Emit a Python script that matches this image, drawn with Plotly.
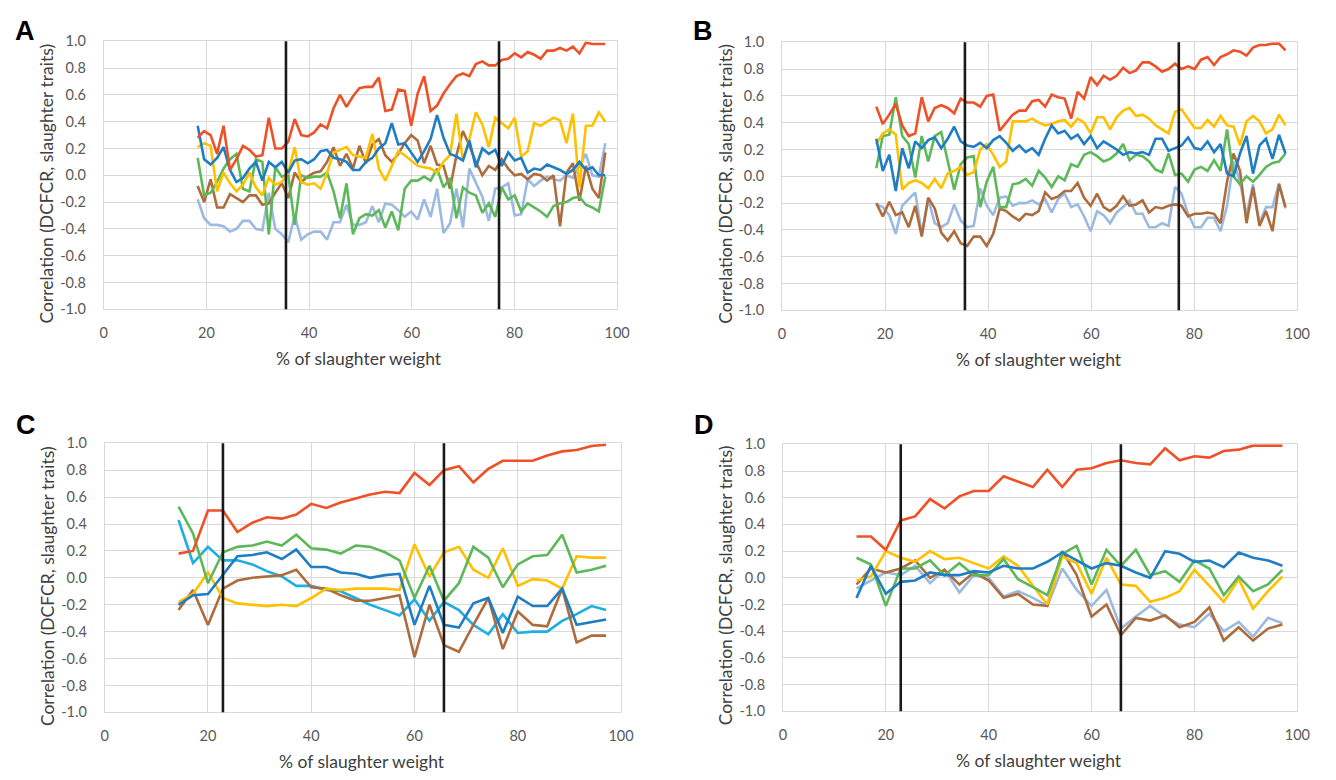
import numpy as np
import plotly.graph_objects as go

# ---------------- data ----------------
# Panels A and B: x positions (% of slaughter weight), 64 evenly spaced samples
x_ab = [round(v, 2) for v in np.linspace(18.3, 97.7, 64)]
# Panels C and D: 30 samples
x_cd = [14.3, 17.1, 20.0, 22.9, 25.7, 28.6, 31.4, 34.3, 37.1, 40.0,
        42.9, 45.7, 48.6, 51.4, 54.3, 57.1, 60.0, 62.9, 65.7, 68.6,
        71.4, 74.3, 77.1, 80.0, 82.9, 85.7, 88.6, 91.4, 94.3, 97.1]

# Vertical reference lines
vlines_ab = [35.5, 77.0]
vlines_cd = [22.9, 65.7]

# ---- Panel A ----
a_red = [0.28, 0.33, 0.30, 0.16, 0.37, 0.04, 0.12, 0.22, 0.19, 0.14,
         0.15, 0.43, 0.20, 0.20, 0.25, 0.42, 0.30, 0.29, 0.32, 0.38,
         0.35, 0.50, 0.60, 0.51, 0.59, 0.65, 0.66, 0.66, 0.73, 0.48,
         0.49, 0.64, 0.63, 0.37, 0.61, 0.74, 0.48, 0.52, 0.61, 0.68,
         0.74, 0.76, 0.74, 0.83, 0.85, 0.82, 0.82, 0.86, 0.87, 0.91,
         0.88, 0.92, 0.90, 0.87, 0.93, 0.93, 0.95, 0.93, 0.96, 0.91,
         0.99, 0.98, 0.98, 0.98]
a_blue = [0.37, 0.12, 0.08, 0.13, 0.21, 0.04, -0.05, -0.02, 0.05, 0.10,
          -0.04, 0.10, 0.06, 0.10, 0.02, 0.11, 0.12, 0.09, 0.12, 0.18,
          0.19, 0.13, 0.12, 0.10, 0.04, 0.04, 0.10, 0.13,
          0.20, 0.24, 0.39, 0.23, 0.24, 0.17, 0.10, 0.18, 0.27, 0.45,
          0.28, 0.16, 0.14, 0.11, 0.26, 0.06, 0.20, 0.16, 0.19, 0.07,
          0.17, 0.11, 0.13, 0.02, 0.05, 0.04, 0.08, 0.06, 0.04, 0.01,
          0.04, 0.10, 0.04, 0.06, 0.00, 0.00]
a_yellow = [0.21, 0.24, 0.22, -0.12, 0.02, -0.06, -0.12, -0.07, 0.02, -0.09,
            -0.15, -0.02, -0.07, -0.05, 0.02, 0.21, -0.05, -0.07, -0.06, -0.10,
            0.02, 0.17, 0.19, 0.21, 0.15, 0.14, 0.13, 0.31,
            0.05, -0.04, 0.07, 0.18, 0.15, 0.11, 0.07, 0.06, 0.05, 0.02,
            0.10, 0.15, 0.46, 0.11, 0.27, 0.47, 0.38, 0.21, 0.43, 0.39,
            0.35, 0.43, 0.14, 0.18, 0.39, 0.37, 0.40, 0.43, 0.41, 0.24,
            0.46, -0.09, 0.37, 0.37, 0.47, 0.40]
a_green = [0.13, -0.15, -0.13, -0.05, 0.05, 0.12, 0.16, -0.10, -0.12, 0.12,
           0.10, -0.44, 0.06, -0.01, 0.01, -0.37, 0.00, -0.02, -0.01, -0.01,
           0.02, -0.12, -0.32, -0.06, -0.44, -0.32, -0.29, -0.30,
           -0.26, -0.39, -0.27, -0.41, -0.10, -0.04, -0.04, -0.01, -0.04, 0.05,
           -0.09, -0.02, -0.32, -0.09, -0.13, -0.15, -0.28, -0.21, -0.31, -0.09,
           -0.18, -0.15, -0.27, -0.21, -0.24, -0.27, -0.31, -0.23, -0.21, -0.20,
           -0.17, -0.16, -0.22, -0.24, -0.27, -0.01]
a_brown = [-0.08, -0.20, -0.03, -0.24, -0.24, -0.14, -0.17, -0.20, -0.15, -0.15,
           -0.22, -0.21, -0.13, -0.06, -0.17, 0.02, -0.05, -0.01, 0.02, 0.03,
           0.10, 0.21, 0.07, 0.16, 0.05, 0.22, 0.09, 0.23,
           0.27, 0.15, 0.10, 0.16, 0.24, 0.30, 0.26, 0.09, 0.22, 0.08,
           0.07, -0.10, 0.15, 0.33, 0.22, 0.10, 0.00, 0.07, 0.04, 0.12,
           0.05, 0.00, 0.01, -0.03, 0.01, 0.00, -0.04, 0.00, -0.38, 0.02,
           0.09, -0.19, 0.07, -0.10, -0.17, 0.17]
a_lightblue = [-0.18, -0.32, -0.37, -0.37, -0.38, -0.42, -0.40, -0.34, -0.34, -0.40,
               -0.41, -0.13, -0.40, -0.44, -0.50, -0.30, -0.48, -0.44, -0.42, -0.42,
               -0.48, -0.35, -0.35, -0.22, -0.37, -0.37, -0.35, -0.23,
               -0.35, -0.21, -0.22, -0.26, -0.31, -0.27, -0.33, -0.18, -0.31, -0.10,
               -0.43, -0.36, -0.10, -0.39, 0.05, -0.05, -0.16, -0.34, -0.10, -0.09,
               -0.06, -0.30, -0.29, -0.03, -0.08, -0.04, -0.01, -0.03, -0.04, 0.00,
               -0.02, 0.07, 0.16, 0.00, -0.01, 0.24]

# ---- Panel B ----
b_red = [0.52, 0.39, 0.46, 0.54, 0.38, 0.30, 0.32, 0.59, 0.41, 0.51,
         0.53, 0.51, 0.47, 0.58, 0.55, 0.55, 0.52, 0.60, 0.61, 0.34,
         0.40, 0.46, 0.49, 0.49, 0.56, 0.57, 0.52, 0.61, 0.59, 0.58,
         0.43, 0.63, 0.58, 0.74, 0.68, 0.75, 0.72, 0.75, 0.81, 0.77,
         0.79, 0.85, 0.85, 0.82, 0.78, 0.80, 0.84, 0.80, 0.82, 0.80,
         0.87, 0.89, 0.83, 0.89, 0.91, 0.94, 0.93, 0.90, 0.96, 0.98,
         0.98, 0.99, 0.99, 0.94]
b_blue = [0.28, 0.04, 0.16, -0.11, 0.21, 0.06, 0.26, 0.21, 0.27, 0.29,
          0.21, 0.28, 0.37, 0.26, 0.23, 0.22, 0.25, 0.21, 0.27, 0.30,
          0.25, 0.19, 0.23, 0.18, 0.21, 0.16, 0.28, 0.38,
          0.32, 0.34, 0.28, 0.31, 0.24, 0.30, 0.21, 0.26, 0.23, 0.20,
          0.16, 0.18, 0.17, 0.18, 0.16, 0.28, 0.28, 0.19, 0.21, 0.23,
          0.29, 0.21, 0.20, 0.26, 0.18, 0.24, 0.02, 0.00, 0.17, 0.30,
          0.02, 0.23, 0.28, 0.13, 0.31, 0.17]
b_yellow = [0.24, 0.32, 0.35, 0.31, -0.10, -0.05, -0.03, -0.05, -0.09, -0.02,
            -0.09, 0.02, 0.04, 0.07, 0.01, 0.03, 0.20, 0.24, 0.16, 0.07,
            0.11, 0.41, 0.41, 0.41, 0.43, 0.40, 0.38, 0.39,
            0.41, 0.42, 0.37, 0.43, 0.40, 0.32, 0.44, 0.44, 0.35, 0.44,
            0.49, 0.51, 0.45, 0.46, 0.43, 0.38, 0.35, 0.32, 0.48, 0.50,
            0.43, 0.36, 0.36, 0.42, 0.37, 0.45, 0.38, 0.37, 0.23, 0.41,
            0.45, 0.41, 0.32, 0.35, 0.46, 0.38]
b_green = [0.06, 0.30, 0.31, 0.59, 0.30, 0.24, -0.01, 0.30, 0.11, 0.30,
           0.33, 0.12, -0.10, 0.09, 0.14, 0.15, -0.23, -0.04, 0.07, -0.23,
           -0.23, -0.06, -0.05, -0.02, -0.07, 0.04, -0.01, -0.08,
           0.00, -0.03, 0.09, 0.07, 0.16, 0.18, 0.15, 0.11, 0.13, 0.17,
           0.24, 0.12, 0.16, 0.15, 0.11, 0.05, 0.03, 0.17, 0.01, 0.02,
           -0.04, 0.05, 0.07, 0.04, 0.12, 0.04, 0.35, 0.00, -0.06, 0.00,
           -0.04, 0.01, 0.07, 0.10, 0.11, 0.17]
b_brown = [-0.20, -0.30, -0.19, -0.29, -0.27, -0.38, -0.22, -0.45, -0.16, -0.24,
           -0.42, -0.48, -0.41, -0.50, -0.52, -0.45, -0.45, -0.52, -0.43, -0.24,
           -0.26, -0.30, -0.33, -0.28, -0.29, -0.26, -0.12, -0.17,
           -0.15, -0.11, -0.11, -0.05, -0.16, -0.22, -0.13, -0.23, -0.26, -0.22,
           -0.15, -0.22, -0.21, -0.18, -0.27, -0.23, -0.24, -0.22, -0.21, -0.22,
           -0.30, -0.28, -0.28, -0.27, -0.28, -0.35, -0.04, 0.17, 0.04, -0.35,
           -0.08, -0.37, -0.26, -0.41, -0.06, -0.23]
b_lightblue = [-0.21, -0.23, -0.29, -0.43, -0.22, -0.17, -0.12, -0.43, -0.17, -0.35,
               -0.38, -0.35, -0.21, -0.33, -0.38, -0.37, -0.09, -0.22, -0.29, -0.16,
               -0.15, -0.22, -0.20, -0.20, -0.18, -0.21, -0.17, -0.27,
               -0.17, -0.13, -0.23, -0.21, -0.30, -0.41, -0.26, -0.29, -0.35, -0.27,
               -0.23, -0.18, -0.28, -0.28, -0.38, -0.38, -0.35, -0.37, -0.08, -0.13,
               -0.28, -0.38, -0.38, -0.31, -0.31, -0.41, -0.22, 0.11, -0.04, -0.29,
               -0.06, -0.35, -0.23, -0.23, -0.05, -0.24]

# ---- Panel C ----
c_red = [0.18, 0.20, 0.50, 0.50, 0.34, 0.41, 0.45, 0.44, 0.47, 0.55,
         0.52, 0.56, 0.59, 0.62, 0.64, 0.63, 0.78, 0.69, 0.80, 0.83,
         0.71, 0.81, 0.87, 0.87, 0.87, 0.91, 0.94, 0.95, 0.98, 0.99]
c_green = [0.53, 0.33, -0.04, 0.19, 0.23, 0.24, 0.27, 0.24, 0.32, 0.22,
           0.21, 0.18, 0.24, 0.23, 0.19, 0.13, -0.15, 0.09, -0.17, -0.04,
           0.23, 0.15, -0.07, 0.10, 0.16, 0.17, 0.32, 0.04, 0.06, 0.09]
c_blue = [-0.20, -0.13, -0.12, 0.02, 0.16, 0.17, 0.19, 0.14, 0.21, 0.08,
          0.08, 0.04, 0.03, 0.00, 0.02, 0.03, -0.35, -0.06, -0.35, -0.37,
          -0.19, -0.15, -0.41, -0.14, -0.21, -0.21, -0.08, -0.35, -0.33, -0.31]
c_cyan = [0.43, 0.11, 0.23, 0.13, 0.13, 0.10, 0.05, 0.01, -0.06, -0.06,
          -0.09, -0.10, -0.15, -0.20, -0.24, -0.28, -0.16, -0.32, -0.18, -0.24,
          -0.35, -0.42, -0.27, -0.41, -0.40, -0.40, -0.32, -0.27, -0.21, -0.24]
c_yellow = [-0.18, -0.12, 0.04, -0.15, -0.19, -0.20, -0.21, -0.20, -0.21, -0.15,
            -0.08, -0.09, -0.08, -0.08, -0.08, -0.09, 0.25, 0.01, 0.19, 0.23,
            0.06, 0.00, 0.22, -0.06, -0.01, -0.02, -0.08, 0.16, 0.15, 0.15]
c_brown = [-0.24, -0.09, -0.35, -0.08, -0.02, 0.00, 0.01, 0.02, 0.06, -0.07,
           -0.08, -0.13, -0.17, -0.17, -0.15, -0.13, -0.59, -0.20, -0.50, -0.55,
           -0.35, -0.15, -0.53, -0.25, -0.35, -0.36, -0.08, -0.48, -0.43, -0.43]

# ---- Panel D ----
d_red = [0.31, 0.31, 0.21, 0.43, 0.46, 0.59, 0.52, 0.61, 0.65, 0.65,
         0.76, 0.72, 0.68, 0.81, 0.68, 0.81, 0.82, 0.86, 0.88, 0.86,
         0.85, 0.97, 0.88, 0.91, 0.90, 0.95, 0.96, 0.99, 0.99, 0.99]
d_blue = [-0.15, 0.09, -0.12, -0.03, -0.02, 0.04, 0.02, 0.02, 0.05, 0.04,
          0.09, 0.07, 0.07, 0.12, 0.19, 0.13, 0.07, 0.11, 0.09, 0.04,
          0.00, 0.20, 0.18, 0.12, 0.13, 0.08, 0.19, 0.15, 0.13, 0.09]
d_green = [0.15, 0.10, -0.21, 0.07, 0.07, 0.13, 0.02, 0.11, 0.02, 0.02,
           0.14, -0.01, -0.07, -0.13, 0.18, 0.24, -0.05, 0.21, 0.09, 0.21,
           0.02, 0.05, -0.03, 0.13, 0.07, -0.13, 0.01, -0.10, -0.05, 0.06]
d_yellow = [-0.02, 0.01, 0.20, 0.15, 0.12, 0.20, 0.14, 0.15, 0.11, 0.07,
            0.16, 0.09, -0.06, -0.20, 0.16, 0.11, -0.12, 0.15, -0.05, -0.06,
            -0.18, -0.15, -0.10, 0.06, -0.06, -0.18, -0.01, -0.23, -0.10, 0.01]
d_lightblue = [-0.08, -0.02, 0.04, 0.02, 0.09, -0.04, 0.06, -0.11, 0.02, 0.00,
               -0.14, -0.10, -0.15, -0.21, 0.07, -0.09, -0.21, -0.09, -0.38, -0.29,
               -0.21, -0.29, -0.35, -0.37, -0.27, -0.40, -0.33, -0.44, -0.30, -0.34]
d_brown = [-0.05, 0.07, 0.04, 0.07, 0.13, 0.00, 0.06, -0.05, 0.04, -0.02,
           -0.15, -0.12, -0.20, -0.21, 0.20, 0.02, -0.29, -0.20, -0.43, -0.30,
           -0.32, -0.28, -0.37, -0.33, -0.22, -0.47, -0.37, -0.47, -0.38, -0.35]

# Axis ticks
x_tickvals = [0, 20, 40, 60, 80, 100]
x_ticktext = ["0", "20", "40", "60", "80", "100"]
y_tickvals = [-1.0, -0.8, -0.6, -0.4, -0.2, 0.0, 0.2, 0.4, 0.6, 0.8, 1.0]
y_ticktext = ["-1.0", "-0.8", "-0.6", "-0.4", "-0.2", "0.0", "0.2", "0.4", "0.6", "0.8", "1.0"]

panel_letters = ["A", "B", "C", "D"]
x_title = "% of slaughter weight"
y_title = "Correlation (DCFCR, slaughter traits)"

# ---------------- styling ----------------
W, H = 1336, 780
C_RED = "#EF5127"
C_BLUE = "#1F7EC3"
C_YELLOW = "#FFC000"
C_GREEN = "#5DB85A"
C_LBLUE = "#9CBAE0"
C_BROWN = "#AE6C3D"
C_CYAN = "#1DAEE3"

FONT = "Lato, 'Open Sans', sans-serif"
TICK_COLOR = "#595959"
GRID = "#D9D9D9"

# pixel geometry of plot areas (left, right, top, bottom) and letter centre y
geom = {
    1: (101, 621, 33, 307, 23),
    2: (788, 1310, 34, 308, 23),
    3: (102, 625, 444, 719, 425),
    4: (789, 1310, 445, 718, 425),
}

panels = {
    1: (x_ab, [(a_lightblue, C_LBLUE), (a_brown, C_BROWN), (a_green, C_GREEN),
               (a_yellow, C_YELLOW), (a_blue, C_BLUE), (a_red, C_RED)], vlines_ab),
    2: (x_ab, [(b_lightblue, C_LBLUE), (b_brown, C_BROWN), (b_green, C_GREEN),
               (b_yellow, C_YELLOW), (b_blue, C_BLUE), (b_red, C_RED)], vlines_ab),
    3: (x_cd, [(c_cyan, C_CYAN), (c_brown, C_BROWN), (c_yellow, C_YELLOW),
               (c_blue, C_BLUE), (c_green, C_GREEN), (c_red, C_RED)], vlines_cd),
    4: (x_cd, [(d_lightblue, C_LBLUE), (d_brown, C_BROWN), (d_yellow, C_YELLOW),
               (d_green, C_GREEN), (d_blue, C_BLUE), (d_red, C_RED)], vlines_cd),
}

fig = go.Figure()
layout = dict(
    width=W, height=H, autosize=False,
    margin=dict(l=0, r=0, t=0, b=0),
    paper_bgcolor="white", plot_bgcolor="white",
    showlegend=False,
    font=dict(family=FONT, color=TICK_COLOR, size=14),
)
shapes = []
annotations = []

for p, (xs, series, vl) in panels.items():
    L, R, T, B, LY = geom[p]
    sx = "" if p == 1 else str(p)
    xa, ya = "x" + sx, "y" + sx
    for ys, col in series:
        fig.add_trace(go.Scatter(
            x=xs[:len(ys)], y=ys, mode="lines", xaxis=xa, yaxis=ya,
            line=dict(color=col, width=2.6), hoverinfo="skip"))
    layout["xaxis" + sx] = dict(
        domain=[L / W, R / W], anchor=ya, range=[0, 100],
        tickvals=x_tickvals, ticktext=x_ticktext, showgrid=True, gridcolor=GRID,
        gridwidth=1, zeroline=False, showline=True, linecolor=GRID, linewidth=1,
        mirror=True, ticks="", ticklabelstandoff=10,
        tickfont=dict(family=FONT, size=14.5, color=TICK_COLOR), fixedrange=True)
    layout["yaxis" + sx] = dict(
        domain=[1 - B / H, 1 - T / H], anchor=xa, range=[-1, 1],
        tickvals=y_tickvals, ticktext=y_ticktext, showgrid=True, gridcolor=GRID,
        gridwidth=1, zeroline=False, showline=True, linecolor=GRID, linewidth=1,
        mirror=True, ticks="", ticklabelstandoff=14,
        tickfont=dict(family=FONT, size=14.5, color=TICK_COLOR), fixedrange=True)
    for v in vl:
        shapes.append(dict(type="line", xref=xa, yref=ya + " domain",
                           x0=v, x1=v, y0=0, y1=1,
                           line=dict(color="#1A1A1A", width=2.6), layer="above"))
    # axis titles
    annotations.append(dict(
        text=x_title, xref="paper", yref="paper",
        x=((L + R) / 2 - 1) / W, y=1 - (B + 50) / H,
        showarrow=False, xanchor="center", yanchor="middle",
        font=dict(family=FONT, size=17.5, color="#404040")))
    annotations.append(dict(
        text=y_title, xref="paper", yref="paper",
        x=(L - 58) / W, y=1 - ((T + B) / 2 + 8) / H, textangle=-90,
        showarrow=False, xanchor="center", yanchor="middle",
        font=dict(family=FONT, size=17.5, color="#404040")))
    # panel letter
    annotations.append(dict(
        text="<b>" + panel_letters[p - 1] + "</b>", xref="paper", yref="paper",
        x=(L - 80) / W, y=1 - LY / H,
        showarrow=False, xanchor="center", yanchor="middle",
        font=dict(family="Liberation Sans, Arial, sans-serif", size=27, color="black")))

layout["shapes"] = shapes
layout["annotations"] = annotations
fig.update_layout(**layout)
fig.write_html("out.html", include_plotlyjs=True, config={"displayModeBar": False})
